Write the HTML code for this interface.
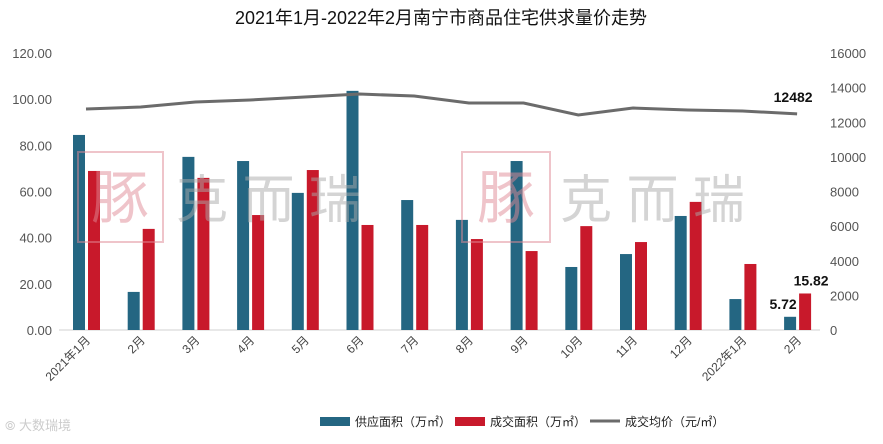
<!DOCTYPE html>
<html><head><meta charset="utf-8"><style>
body{margin:0;background:#fff;width:883px;height:439px;overflow:hidden;font-family:"Liberation Sans","Noto Sans CJK SC",sans-serif}
</style></head><body>
<svg id="c" width="883" height="439" xmlns="http://www.w3.org/2000/svg">
<text x="441" y="24" text-anchor="middle" font-size="18" fill="#111">2021年1月-2022年2月南宁市商品住宅供求量价走势</text>
<g id="axes"></g><g id="bars"></g><g id="line"></g>
<g opacity="0.5">
<rect x="78" y="152" width="85" height="90" fill="none" stroke="#e08a96" stroke-width="2"/>
<text x="120" y="218" text-anchor="middle" font-size="58" fill="#e08a96">豚</text>
<text x="176" y="218" font-size="52" fill="#aaa">克 而 瑞</text>
<rect x="462" y="152" width="88" height="90" fill="none" stroke="#e08a96" stroke-width="2"/>
<text x="506" y="218" text-anchor="middle" font-size="58" fill="#e08a96">豚</text>
<text x="560" y="218" font-size="52" fill="#aaa">克 而 瑞</text>
</g>
<g font-size="12" fill="#222">
<rect x="320" y="417" width="30" height="9" fill="#246682"/>
<text x="355" y="426">供应面积（万㎡）</text>
<rect x="455" y="417" width="30" height="9" fill="#c8192b"/>
<text x="490" y="426">成交面积（万㎡）</text>
<line x1="590" y1="421" x2="620" y2="421" stroke="#6b6b6b" stroke-width="3"/>
<text x="625" y="426">成交均价（元/㎡）</text>
</g>
<text x="5" y="430" font-size="13" fill="#ccc">⦾ 大数瑞境</text>
</svg>
<script>
const categories=["2021年1月","2月","3月","4月","5月","6月","7月","8月","9月","10月","11月","12月","2022年1月","2月"];
const supply=[84.5,16.5,75,73.2,59.4,103.6,56.3,47.7,73.2,27.3,32.9,49.4,13.4,5.72];
const deal=[68.9,43.8,65.9,49.8,69.3,45.5,45.5,39.4,34.2,45,38.1,55.5,28.6,15.82];
const price=[12765,12880,13170,13285,13460,13630,13515,13110,13110,12420,12820,12710,12650,12482];
const leftTicks=[0,20,40,60,80,100,120];
const rightTicks=[0,2000,4000,6000,8000,10000,12000,14000,16000];
const NS="http://www.w3.org/2000/svg";
const y0=330,yTop=53;
const yL=v=>y0-(v/120)*(y0-yTop);
const yR=v=>y0-(v/16000)*(y0-yTop);
const xC=i=>86+i*54.7;
function mk(tag,attrs,parent,txt){const e=document.createElementNS(NS,tag);for(const k in attrs)e.setAttribute(k,attrs[k]);if(txt!==undefined)e.textContent=txt;document.getElementById(parent).appendChild(e);return e;}
const ax=mk("line",{x1:59,x2:820,y1:y0,y2:y0,stroke:"#d0d0d0","stroke-width":1},"axes");


leftTicks.forEach(t=>{const e=mk("text",{x:52,y:yL(t)+5,"text-anchor":"end","font-size":"13",fill:"#555"},"axes",t.toFixed(2));

});
rightTicks.forEach(t=>{const e=mk("text",{x:830,y:yR(t)+5,"font-size":"13",fill:"#555"},"axes",String(t));

});
categories.forEach((c,i)=>{const x=xC(i)+5,y=341;const e=mk("text",{x:x,y:y,"text-anchor":"end","font-size":"12",fill:"#444",transform:`rotate(-45 ${x} ${y})`},"axes",c);

});
supply.forEach((v,i)=>{const b=mk("rect",{x:xC(i)-13,y:yL(v),width:12,height:y0-yL(v),fill:"#246682"},"bars");

});
deal.forEach((v,i)=>{const b=mk("rect",{x:xC(i)+2,y:yL(v),width:12,height:y0-yL(v),fill:"#c8192b"},"bars");

});
const pl=mk("polyline",{points:price.map((v,i)=>xC(i)+","+yR(v)).join(" "),fill:"none",stroke:"#6b6b6b","stroke-width":3},"line");


const n=categories.length-1;
const l1=mk("text",{x:xC(n)-4,y:yR(price[n])-12,"text-anchor":"middle","font-size":"14","font-weight":"bold",fill:"#111"},"line",String(price[n]));


const l2=mk("text",{x:xC(n)-14,y:yL(supply[n])-8,"text-anchor":"middle","font-size":"14","font-weight":"bold",fill:"#111"},"line",supply[n].toFixed(2));


const l3=mk("text",{x:xC(n)+14,y:yL(deal[n])-8,"text-anchor":"middle","font-size":"14","font-weight":"bold",fill:"#111"},"line",deal[n].toFixed(2));


</script>
</body></html>
